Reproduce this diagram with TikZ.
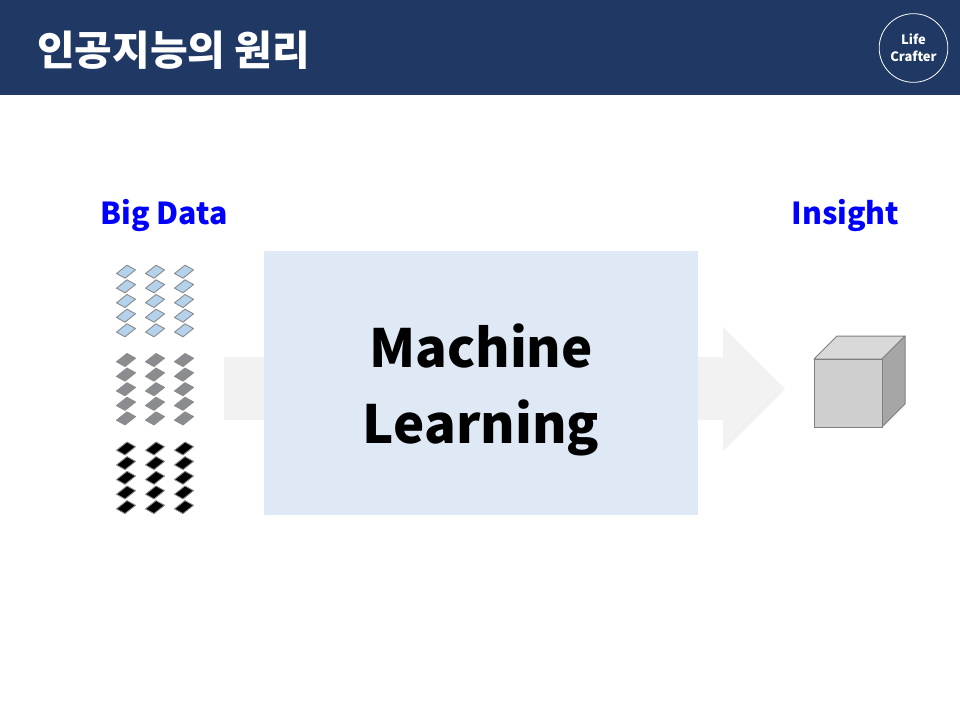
\documentclass[tikz,border=0pt]{standalone}
\usepackage{fontspec}
\setmainfont{Noto Sans CJK KR}
\usetikzlibrary{positioning,calc}
\definecolor{headerblue}{HTML}{1F3864}
\definecolor{boxblue}{HTML}{DEE9F5}
\definecolor{arrowgray}{HTML}{F2F2F2}
\definecolor{chipblue}{HTML}{B4D2EC}
\definecolor{chipgray}{HTML}{8A8C90}
\definecolor{cubeedge}{HTML}{808080}
\begin{document}
\begin{tikzpicture}[
  x=0.75pt, y=-0.75pt,
  title/.style={text=white, font=\fontsize{30.7}{36}\selectfont\bfseries, anchor=west, inner sep=0pt},
  logo/.style={circle, draw=white, line width=0.6pt, text=white, minimum size=51.5pt, inner sep=0pt, align=center, font=\fontsize{9.7}{13}\selectfont\bfseries},
  heading/.style={text=blue, font=\fontsize{22.7}{27}\selectfont\bfseries, inner sep=0pt},
  mlbox/.style={fill=boxblue, minimum width=325.5pt, minimum height=198pt, inner sep=0pt},
  mltext/.style={align=center, inner sep=0pt, font=\fontsize{39.5}{57}\selectfont\bfseries},
  chip/.style={draw=gray!90, line width=0.7pt, line join=round}
]
\useasboundingbox (0,0) rectangle (960,720);
\fill[headerblue] (0,0) rectangle (960,95);
\node[title] (heading) at (37,50.5) {인공지능의 원리};
\node[logo] (crafter) at (913.5,48) {Life\\Crafter};

\node[heading] (bigdata) at (164,216) {Big Data};
\node[heading] (insight) at (845.5,216) {Insight};

% big arrow behind the box
\fill[arrowgray] (224,357) -- (723,357) -- (723,327) -- (785,389) -- (723,451) -- (723,420) -- (224,420) -- cycle;
\node[mlbox] (ml) at (481,383) {};
\node[mltext] (mllabel) at (481,390) {Machine\\Learning};

% data chips
\foreach \x in {126,155,184} {
  \foreach \i in {0,...,4} {
    \draw[chip, fill=chipblue] ($(\x,271.7+14.65*\i)$) +(-9.5,1.8) -- +(1,-6.5) -- +(9.5,-1.8) -- +(-1,6.5) -- cycle;
    \draw[chip, fill=chipgray] ($(\x,360+14.6*\i)$) +(-9.5,1.8) -- +(1,-6.5) -- +(9.5,-1.8) -- +(-1,6.5) -- cycle;
    \draw[chip, fill=black] ($(\x,448.5+14.65*\i)$) +(-9.5,1.8) -- +(1,-6.5) -- +(9.5,-1.8) -- +(-1,6.5) -- cycle;
  }
}

% cube
\draw[cubeedge, line width=0.75pt, line join=round, fill=black!15] (814,359) -- (837,336) -- (905,336) -- (882,359) -- cycle;
\draw[cubeedge, line width=0.75pt, line join=round, fill=black!35] (882,359) -- (905,336) -- (905,404) -- (882,427) -- cycle;
\draw[cubeedge, line width=0.75pt, fill=black!19] (814,359) rectangle (882,427);
\end{tikzpicture}
\end{document}
